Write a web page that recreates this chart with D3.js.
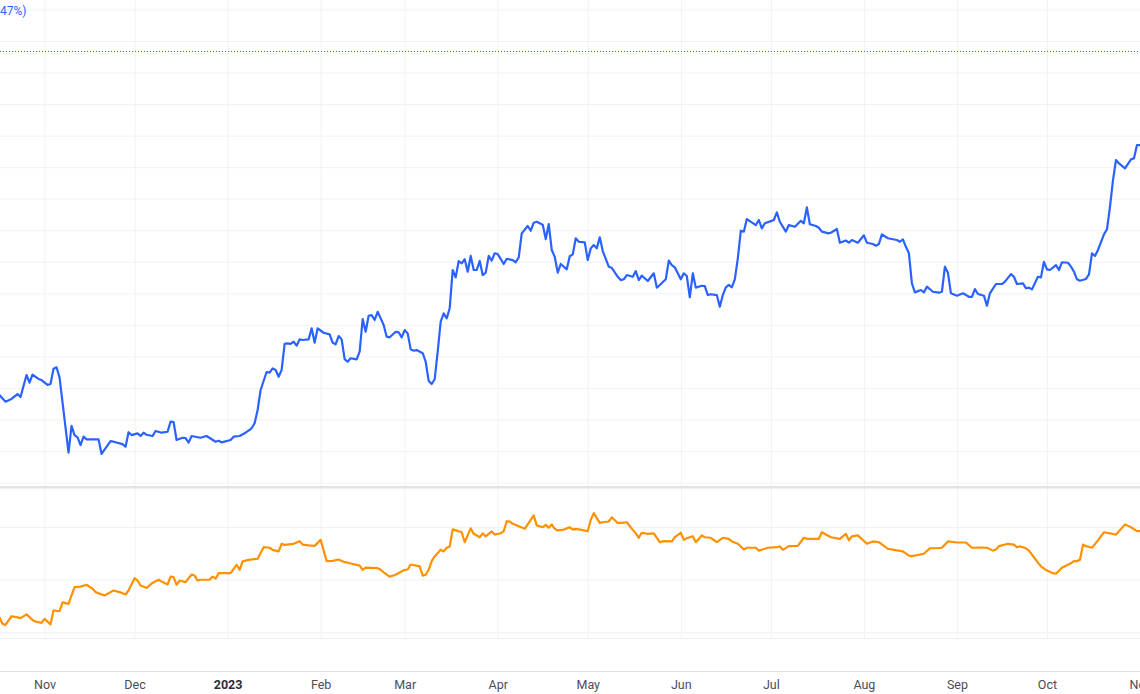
<!DOCTYPE html>
<html>
<head>
<meta charset="utf-8">
<script src="https://cdn.jsdelivr.net/npm/d3@7"></script>
<style>
  html, body { margin: 0; padding: 0; background: #fff; overflow: hidden; }
  svg { display: block; }
</style>
</head>
<body>
<svg id="chart"></svg>
<script>
// day offsets are counted from 2022-10-17 (UTC)
const startDate = Date.UTC(2022, 9, 17);
const endDate = Date.UTC(2023, 10, 1);

// BTCUSD daily closes (top pane)
const btcDays = [
  0, 2, 4, 6, 7, 9, 10, 11, 13, 14,
  16, 17, 18, 19, 20, 23, 24, 25, 26, 27,
  28, 29, 33, 34, 37, 38, 41, 42, 43, 44,
  46, 47, 48, 49, 51, 52, 54, 56, 57, 58,
  59, 61, 62, 63, 64, 67, 69, 72, 73, 74,
  77, 78, 80, 82, 84, 85, 86, 87, 89, 90,
  91, 92, 93, 94, 95, 96, 97, 98, 99, 100,
  101, 103, 104, 105, 106, 108, 110, 111, 112, 113,
  114, 115, 116, 117, 119, 120, 121, 122, 123, 124,
  125, 126, 127, 128, 129, 130, 132, 133, 134, 135,
  136, 137, 138, 139, 141, 142, 143, 144, 145, 146,
  147, 148, 149, 150, 151, 152, 153, 154, 155, 156,
  157, 158, 159, 160, 161, 162, 163, 164, 165, 166,
  168, 169, 171, 172, 173, 174, 176, 177, 178, 179,
  181, 182, 183, 184, 185, 186, 187, 189, 190, 191,
  192, 193, 195, 196, 197, 198, 199, 200, 201, 203,
  204, 206, 207, 208, 209, 211, 212, 213, 214, 216,
  218, 219, 220, 222, 223, 224, 225, 227, 228, 229,
  230, 231, 232, 234, 235, 236, 237, 239, 240, 241,
  242, 243, 244, 245, 246, 247, 248, 249, 250, 252,
  253, 254, 255, 257, 258, 259, 260, 262, 263, 265,
  267, 268, 269, 270, 272, 273, 274, 275, 276, 277,
  279, 280, 282, 283, 284, 286, 288, 289, 291, 292,
  293, 294, 296, 299, 300, 301, 302, 303, 304, 305,
  307, 308, 309, 311, 313, 314, 315, 316, 317, 319,
  321, 323, 324, 325, 326, 328, 329, 330, 332, 334,
  335, 337, 338, 339, 341, 342, 343, 344, 346, 347,
  348, 349, 350, 352, 353, 354, 356, 357, 358, 359,
  360, 362, 363, 364, 365, 366, 368, 369, 370, 371,
  372, 373, 375, 377, 378, 379, 380
];
const btcClose = [
  19550, 19130, 19300, 19610, 19420, 20820, 20330, 20840, 20570, 20500,
  20190, 20250, 21220, 21310, 20670, 15890, 17590, 17010, 16870, 16380,
  16910, 16740, 16740, 15810, 16630, 16590, 16440, 16270, 17190, 17010,
  17120, 16950, 17160, 17030, 16950, 17270, 17160, 17220, 17860, 17840,
  16700, 16840, 16820, 16530, 16950, 16840, 16950, 16590, 16650, 16550,
  16700, 16910, 16950, 17160, 17440, 17760, 18600, 19870, 21010, 20970,
  21240, 21140, 20710, 21140, 22790, 22830, 22790, 22930, 22680, 23080,
  23040, 23080, 23780, 22870, 23780, 23500, 23400, 22870, 22770, 23290,
  23080, 21830, 21660, 21880, 21810, 22300, 24370, 23560, 24580, 24620,
  24310, 24830, 24410, 23990, 23250, 23210, 23560, 23530, 23210, 23670,
  23460, 22450, 22360, 22400, 22200, 21660, 20440, 20250, 20550, 22300,
  24200, 24730, 24410, 25050, 27480, 27010, 28050, 27900, 28160, 27370,
  28370, 27480, 27480, 28050, 27160, 27310, 28370, 28070, 28540, 28490,
  27860, 28190, 28110, 27970, 28280, 29800, 30270, 29970, 30480, 30540,
  30350, 29440, 30390, 28750, 28320, 27310, 27860, 27520, 28350, 28470,
  29490, 29270, 29230, 28110, 28850, 29060, 28850, 29550, 28680, 27690,
  27620, 27050, 26840, 26890, 27160, 27050, 27410, 26840, 27120, 26780,
  27270, 26360, 26530, 26890, 28070, 27790, 27650, 26890, 27270, 27100,
  25750, 27270, 26360, 26480, 26460, 25890, 25940, 25890, 25150, 25890,
  26380, 26530, 26380, 26890, 28220, 29970, 29910, 30710, 30580, 30330,
  30650, 30120, 30440, 30580, 30650, 31140, 30540, 29910, 30330, 30220,
  30600, 30440, 31450, 30380, 30270, 30160, 29910, 29870, 29800, 29840,
  30080, 29210, 29350, 29210, 29380, 29210, 29680, 29210, 29130, 29020,
  29130, 29740, 29490, 29380, 29270, 29420, 28950, 28540, 26630, 26060,
  26210, 26060, 26420, 26100, 26040, 26100, 27690, 27310, 26000, 25850,
  26000, 25780, 25780, 26270, 25960, 25850, 25210, 26000, 26590, 26590,
  26740, 27220, 27050, 26590, 26630, 26320, 26360, 26250, 27050, 27010,
  28000, 27520, 27480, 27790, 27480, 27970, 27940, 27690, 27370, 26890,
  26800, 26910, 27200, 28540, 28370, 28750, 29740, 30060, 31490, 33180,
  34450, 34240, 33930, 34500, 34560, 35400, 35400
];

// Gold closes (lower pane)
const goldDays = [
  0, 1, 2, 4, 6, 7, 9, 11, 12, 14,
  15, 17, 18, 20, 21, 23, 25, 27, 29, 31,
  32, 35, 37, 38, 40, 42, 43, 45, 46, 47,
  49, 51, 53, 54, 56, 57, 58, 59, 60, 62,
  64, 65, 66, 67, 70, 71, 72, 73, 77, 79,
  80, 81, 83, 86, 88, 90, 91, 93, 94, 95,
  98, 100, 101, 103, 105, 107, 109, 111, 113, 115,
  116, 120, 121, 122, 126, 127, 128, 130, 132, 135,
  136, 137, 140, 141, 142, 143, 144, 145, 147, 148,
  149, 150, 151, 154, 155, 157, 158, 160, 161, 162,
  164, 165, 167, 168, 169, 170, 171, 175, 176, 178,
  179, 181, 182, 183, 184, 185, 186, 188, 190, 191,
  192, 194, 196, 197, 198, 200, 201, 203, 204, 206,
  207, 209, 211, 212, 213, 214, 216, 218, 220, 221,
  224, 225, 227, 228, 229, 231, 232, 234, 235, 237,
  239, 241, 243, 244, 246, 248, 249, 252, 253, 255,
  256, 259, 260, 261, 263, 266, 268, 269, 273, 274,
  277, 280, 282, 283, 284, 286, 289, 291, 293, 296,
  298, 301, 303, 304, 308, 310, 312, 314, 316, 319,
  322, 324, 327, 329, 331, 332, 333, 336, 338, 339,
  340, 342, 343, 345, 347, 349, 351, 352, 354, 357,
  358, 359, 360, 361, 362, 364, 366, 368, 370, 372,
  373, 375, 377, 379, 380
];
const goldClose = [
  1656, 1631, 1627, 1660, 1656, 1653, 1667, 1646, 1640, 1635,
  1650, 1629, 1682, 1679, 1713, 1707, 1771, 1773, 1780, 1765,
  1752, 1739, 1752, 1758, 1752, 1743, 1758, 1805, 1796, 1777,
  1768, 1787, 1799, 1792, 1781, 1811, 1809, 1780, 1796, 1790,
  1819, 1815, 1796, 1799, 1799, 1811, 1803, 1824, 1824, 1856,
  1837, 1869, 1875, 1879, 1923, 1921, 1913, 1907, 1936, 1932,
  1936, 1946, 1933, 1930, 1928, 1951, 1870, 1871, 1876, 1866,
  1864, 1853, 1837, 1845, 1843, 1837, 1827, 1811, 1818, 1837,
  1838, 1857, 1850, 1815, 1818, 1837, 1870, 1888, 1913, 1907,
  1921, 1926, 1991, 1980, 1942, 1995, 1974, 1961, 1976, 1964,
  1983, 1971, 1976, 1984, 2022, 2021, 2012, 1993, 2010, 2044,
  2006, 1999, 2008, 1997, 2010, 1993, 1987, 1990, 1999, 1990,
  1993, 1989, 1984, 2027, 2053, 2016, 2018, 2021, 2037, 2015,
  2016, 2018, 1989, 1976, 1959, 1978, 1974, 1976, 1942, 1946,
  1945, 1961, 1978, 1951, 1957, 1965, 1942, 1968, 1961, 1959,
  1942, 1959, 1955, 1945, 1936, 1914, 1921, 1921, 1910, 1917,
  1921, 1923, 1926, 1913, 1927, 1928, 1959, 1955, 1955, 1980,
  1961, 1955, 1974, 1949, 1964, 1968, 1936, 1945, 1942, 1917,
  1913, 1907, 1891, 1889, 1898, 1919, 1919, 1921, 1945, 1941,
  1941, 1921, 1922, 1921, 1910, 1914, 1927, 1936, 1933, 1923,
  1926, 1919, 1910, 1879, 1850, 1834, 1824, 1822, 1845, 1862,
  1870, 1870, 1875, 1933, 1927, 1921, 1949, 1980, 1976, 1971,
  1984, 2010, 1999, 1984, 1984
];

// price-level grid values and the dotted level line
const btcGrid = d3.range(14000, 44001, 2000);
const goldGrid = [1600, 1800, 2000];
const btcLevel = 41370;
const legendText = "47%)";

const width = 1140;
const height = 694;
const dayMs = 24 * 3600 * 1000;

const toSeries = (days, values) =>
  days.slice(0, values.length).map((d, i) => ({
    date: new Date(startDate + d * dayMs),
    value: values[i],
  }));

const btc = toSeries(btcDays, btcClose);
const gold = toSeries(goldDays, goldClose);

const svg = d3.select("#chart").attr("width", width).attr("height", height);

const x = d3
  .scaleUtc()
  .domain([new Date(startDate), new Date(endDate)])
  .range([-0.5, width]);

const yBtc = d3.scaleLinear().domain([16000, 44000]).range([451, 9.5]);
const yGold = d3.scaleLinear().domain([1600, 2000]).range([632, 527]);

const topPane = { y0: 0, y1: 486 };
const lowPane = { y0: 488, y1: 638 };
const gridColor = "#f0f2f6";
const borderColor = "#e0e3eb";

// clip paths for each pane
const defs = svg.append("defs");
defs
  .append("clipPath")
  .attr("id", "clip-top")
  .append("rect")
  .attr("x", 0)
  .attr("y", topPane.y0)
  .attr("width", width)
  .attr("height", topPane.y1 - topPane.y0);
defs
  .append("clipPath")
  .attr("id", "clip-low")
  .append("rect")
  .attr("x", 0)
  .attr("y", lowPane.y0)
  .attr("width", width)
  .attr("height", lowPane.y1 - lowPane.y0);

// vertical month grid
const months = d3.utcMonth.range(new Date(Date.UTC(2022, 10, 1)), new Date(Date.UTC(2023, 10, 2)));

svg
  .append("g")
  .attr("transform", `translate(0,${lowPane.y1})`)
  .call(d3.axisBottom(x).tickValues(months).tickSize(-lowPane.y1).tickFormat(""))
  .call((g) => g.select(".domain").remove())
  .call((g) => g.selectAll("line").attr("stroke", gridColor).attr("stroke-width", 1));

// horizontal grid, top pane
svg
  .append("g")
  .attr("clip-path", "url(#clip-top)")
  .call(d3.axisRight(yBtc).tickValues(btcGrid).tickSize(width).tickFormat(""))
  .call((g) => g.select(".domain").remove())
  .call((g) => g.selectAll("line").attr("stroke", gridColor).attr("stroke-width", 1));

// horizontal grid, lower pane
svg
  .append("g")
  .call(d3.axisRight(yGold).tickValues(goldGrid).tickSize(width).tickFormat(""))
  .call((g) => g.select(".domain").remove())
  .call((g) => g.selectAll("line").attr("stroke", gridColor).attr("stroke-width", 1));

// pane separator and borders
svg
  .append("rect")
  .attr("x", 0)
  .attr("y", topPane.y1)
  .attr("width", width)
  .attr("height", lowPane.y0 - topPane.y1 + 0.5)
  .attr("fill", borderColor);

svg
  .append("line")
  .attr("x1", 0)
  .attr("x2", width)
  .attr("y1", lowPane.y1 + 0.5)
  .attr("y2", lowPane.y1 + 0.5)
  .attr("stroke", "#eceef3");

svg
  .append("line")
  .attr("x1", 0)
  .attr("x2", width)
  .attr("y1", 671.5)
  .attr("y2", 671.5)
  .attr("stroke", borderColor);

// dotted level line
svg
  .append("line")
  .attr("x1", 0)
  .attr("x2", width)
  .attr("y1", Math.round(yBtc(btcLevel)) + 0.5)
  .attr("y2", Math.round(yBtc(btcLevel)) + 0.5)
  .attr("stroke", "#2962ff")
  .attr("stroke-width", 1)
  .attr("stroke-dasharray", "1,2");

// series lines
const line = (yScale) =>
  d3
    .line()
    .x((d) => x(d.date))
    .y((d) => yScale(d.value));

svg
  .append("path")
  .datum(btc)
  .attr("clip-path", "url(#clip-top)")
  .attr("d", line(yBtc))
  .attr("fill", "none")
  .attr("stroke", "#2962ff")
  .attr("stroke-width", 2.2)
  .attr("stroke-linejoin", "round");

svg
  .append("path")
  .datum(gold)
  .attr("clip-path", "url(#clip-low)")
  .attr("d", line(yGold))
  .attr("fill", "none")
  .attr("stroke", "#ff9100")
  .attr("stroke-width", 2.2)
  .attr("stroke-linejoin", "round");

// legend fragment, top-left
svg
  .append("text")
  .attr("x", 0)
  .attr("y", 14.5)
  .attr("font-family", "Roboto, 'Noto Sans', sans-serif")
  .attr("font-size", 12)
  .attr("fill", "#2962ff")
  .text(legendText);

// time axis labels
const monthFmt = d3.utcFormat("%b");
const xAxis = svg
  .append("g")
  .attr("transform", "translate(0,672)")
  .call(
    d3
      .axisBottom(x)
      .tickValues(months)
      .tickSize(0)
      .tickPadding(13)
      .tickFormat((d) => (d.getUTCMonth() === 0 ? String(d.getUTCFullYear()) : monthFmt(d)))
  )
  .call((g) => g.select(".domain").remove());

xAxis
  .selectAll("text")
  .attr("font-family", "Roboto, 'Noto Sans', sans-serif")
  .attr("font-size", 12.5)
  .attr("dy", "0.32em")
  .attr("y", 13)
  .attr("font-weight", (d) => (d.getUTCMonth() === 0 ? "bold" : "normal"))
  .attr("fill", (d) => (d.getUTCMonth() === 0 ? "#2a2e39" : "#4a4e59"));
</script>
</body>
</html>
